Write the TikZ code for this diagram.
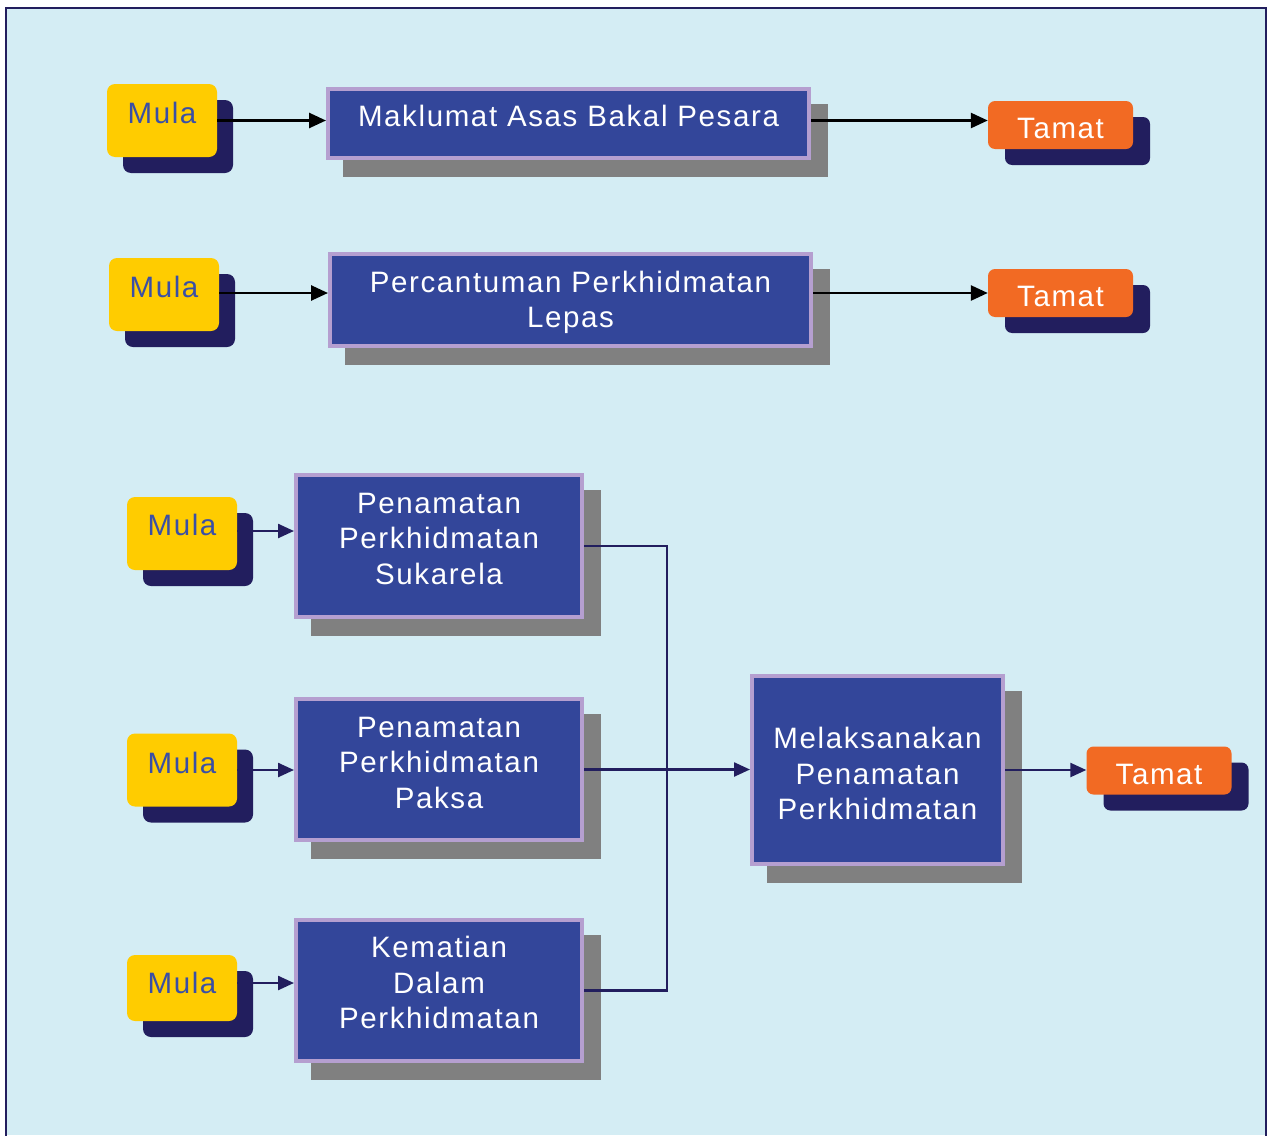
\documentclass[tikz,border=0pt]{standalone}
\usepackage{fontspec}
\setmainfont[LetterSpace=5.5]{Liberation Sans}
\usetikzlibrary{arrows.meta,shadows}

\definecolor{bgblue}{HTML}{D4EDF4}
\definecolor{navy}{HTML}{221E5E}
\definecolor{boxblue}{HTML}{33469A}
\definecolor{lavender}{HTML}{B59FD0}
\definecolor{shadowgray}{HTML}{808080}
\definecolor{startyellow}{HTML}{FFCC00}
\definecolor{endorange}{HTML}{F26A23}
\definecolor{starttext}{HTML}{3A4FA6}

% one-line label whose capitals are centred #1 above the node centre
\newcommand{\oneline}[2]{\raisebox{\dimexpr #1-10.6pt\relax}[0pt][0pt]{#2}}
% multi-line label, centred #1 above the node centre
\newcommand{\lines}[2]{\raisebox{\dimexpr #1-10.9pt\relax}[0pt][0pt]{%
  \begin{tabular}{@{}c@{}}#2\end{tabular}}}

\tikzset{
  lbl/.style={font=\fontsize{29.5}{35.5}\selectfont},
  startbox/.style={lbl, rectangle, rounded corners=8pt, fill=startyellow,
    text=starttext, inner sep=0pt, minimum width=110pt, minimum height=73pt,
    drop shadow={shadow xshift=16pt, shadow yshift=-16pt, fill=navy, opacity=1}},
  endbox/.style={lbl, rectangle, rounded corners=7pt, fill=endorange,
    text=white, inner sep=0pt, minimum width=145pt, minimum height=48pt,
    drop shadow={shadow xshift=17pt, shadow yshift=-16pt, fill=navy, opacity=1}},
  stepbox/.style={lbl, rectangle, fill=boxblue, draw=lavender, line width=4pt,
    text=white, align=center, inner sep=0pt,
    drop shadow={shadow xshift=16.5pt, shadow yshift=-16.5pt, fill=shadowgray,
      draw=shadowgray, line width=4pt, opacity=1}},
  blackarrow/.style={draw=black, line width=2.6pt,
    -{Triangle[length=17pt,width=15pt]}},
  navyarrow/.style={draw=navy, line width=2.4pt,
    -{Triangle[length=16pt,width=14pt]}},
  navyline/.style={draw=navy, line width=2.4pt},
}

\begin{document}
\begin{tikzpicture}[x=1pt,y=-1pt]
  \useasboundingbox (0,0) rectangle (1268,1135);
  % frame and background
  \fill[white] (0,0) rectangle (1268,1135);
  \fill[bgblue] (6,8) rectangle (1266,1135);
  \draw[navy, line width=2.6pt] (6,1136) -- (6,8) -- (1266,8) -- (1266,1136);

  % first row
  \node[startbox] (m1) at (162,120.5) {\oneline{7.5pt}{Mula}};
  \node[stepbox, minimum width=481pt, minimum height=69pt] (b1) at (568.5,123.5)
    {\oneline{7.5pt}{Maklumat Asas Bakal Pesara}};
  \node[endbox] (t1) at (1060.5,125) {\oneline{-3pt}{Tamat}};

  % second row
  \node[startbox] (m2) at (164,294.5) {\oneline{7.5pt}{Mula}};
  \node[stepbox, minimum width=481pt, minimum height=92pt] (b2) at (570.5,300)
    {\lines{2pt}{Percantuman Perkhidmatan\\Lepas}};
  \node[endbox] (t2) at (1060.5,293) {\oneline{-3pt}{Tamat}};

  % termination flows
  \node[startbox] (m3) at (182,533.5) {\oneline{8.5pt}{Mula}};
  \node[startbox] (m4) at (182,770) {\oneline{7pt}{Mula}};
  \node[startbox, minimum height=66pt] (m5) at (182,988) {\oneline{5pt}{Mula}};

  \node[stepbox, minimum width=286pt, minimum height=142pt] (b3) at (439,546)
    {\lines{9pt}{Penamatan\\Perkhidmatan\\Sukarela}};
  \node[stepbox, minimum width=286pt, minimum height=141pt] (b4) at (439,769.5)
    {\lines{8.5pt}{Penamatan\\Perkhidmatan\\Paksa}};
  \node[stepbox, minimum width=286pt, minimum height=141pt] (b5) at (439,990.5)
    {\lines{9pt}{Kematian\\Dalam\\Perkhidmatan}};

  \node[stepbox, minimum width=251pt, minimum height=188pt] (b6) at (877.5,770)
    {\lines{-2.5pt}{Melaksanakan\\Penamatan\\Perkhidmatan}};
  \node[endbox] (t3) at (1159,770.5) {\oneline{-3.5pt}{Tamat}};

  % connectors
  \draw[blackarrow] (m1.east) -- (m1.east -| b1.west);
  \draw[blackarrow] (b1.east |- m1.east) -- (m1.east -| t1.west);
  \draw[blackarrow] (m2.east |- t2.west) -- (t2.west -| b2.west);
  \draw[blackarrow] (b2.east |- t2.west) -- (t2.west);

  \draw[navyarrow] ([yshift=2.5pt]m3.east) -- ([yshift=2.5pt]m3.east -| b3.west);
  \draw[navyarrow] (m4.east) -- (m4.east -| b4.west);
  \draw[navyarrow] ([yshift=5pt]m5.east) -- ([yshift=5pt]m5.east -| b5.west);

  \coordinate (join) at (667,0);
  \draw[navyline] (b3.east) -- (b3.east -| join) -- (b5.east -| join) -- (b5.east);
  \draw[navyarrow] (b4.east) -- (b4.east -| b6.west);
  \draw[navyarrow] (b6.east) -- (b6.east -| t3.west);
\end{tikzpicture}
\end{document}
